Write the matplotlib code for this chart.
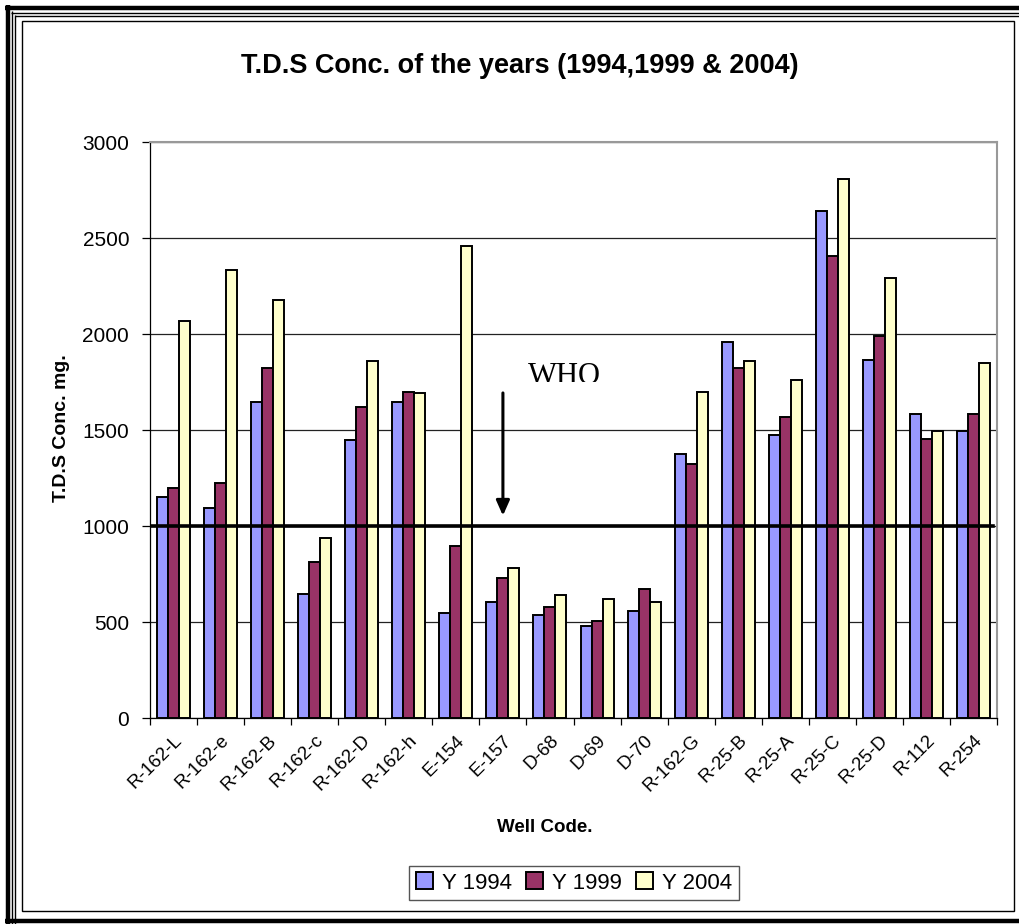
import matplotlib as mpl
import matplotlib.pyplot as plt
import numpy as np
from matplotlib.lines import Line2D
from matplotlib.patches import Rectangle
from matplotlib.transforms import Bbox

mpl.rcParams['font.family'] = ['Liberation Sans', 'DejaVu Sans']

# datos
pozos = ['R-162-L', 'R-162-e', 'R-162-B', 'R-162-c', 'R-162-D', 'R-162-h',
         'E-154', 'E-157', 'D-68', 'D-69', 'D-70', 'R-162-G', 'R-25-B',
         'R-25-A', 'R-25-C', 'R-25-D', 'R-112', 'R-254']
y1994 = [1153, 1096, 1648, 647, 1449, 1648, 547, 604, 538, 481, 556, 1374,
         1957, 1475, 2639, 1864, 1582, 1495]
y1999 = [1196, 1224, 1824, 814, 1622, 1698, 897, 730, 580, 505, 670, 1324,
         1824, 1568, 2408, 1990, 1455, 1582]
y2004 = [2066, 2331, 2175, 938, 1859, 1691, 2456, 780, 639, 619, 604, 1698,
         1859, 1759, 2809, 2293, 1495, 1847]
series = ['Y 1994', 'Y 1999', 'Y 2004']
colores = ['#9999FF', '#993366', '#FFFFCC']
limite_who = 1000

W, H = 1020, 924
fig = plt.figure(figsize=(W / 100, H / 100), dpi=100)

def fx(px):
    return px / W

def fy(py):
    return 1 - py / H

ax = fig.add_axes([fx(150), fy(718), fx(997) - fx(150), fy(142) - fy(718)])

x = np.arange(len(pozos))
ancho = 0.234
for i, (vals, nom, col) in enumerate(zip([y1994, y1999, y2004], series, colores)):
    ax.bar(x + (i - 1) * ancho, vals, ancho, color=col, edgecolor='black',
           linewidth=1.4, label=nom, zorder=3)

ax.set_xlim(-0.5, len(pozos) - 0.5)
ax.set_ylim(0, 3000)
ax.set_yticks(np.arange(0, 3001, 500))
ax.yaxis.grid(True, color='#222222', linewidth=0.9, zorder=0)
ax.set_axisbelow(True)

ax.set_xticks(x)
ax.set_xticklabels(pozos, rotation=45, ha='right', rotation_mode='anchor', fontsize=13.5)
ax.set_xticks(np.arange(-0.5, len(pozos)), minor=True)
ax.tick_params(axis='x', which='major', length=0, pad=10)
ax.tick_params(axis='x', which='minor', length=5, width=0.9, direction='out')
ax.tick_params(axis='y', length=6, width=0.9, direction='out', labelsize=15, pad=9)

for s in ['top', 'right']:
    ax.spines[s].set_color('#999999')
    ax.spines[s].set_linewidth(1.5)
for s in ['left', 'bottom']:
    ax.spines[s].set_color('black')
    ax.spines[s].set_linewidth(0.9)

# línea WHO
ax.axhline(limite_who, xmin=0, xmax=0.995, color='black', linewidth=2.6, zorder=5)
ax.annotate('', xy=(7.0, 1054), xytext=(7.0, 1693),
            arrowprops=dict(arrowstyle='-|>,head_length=0.9,head_width=0.4',
                            color='black', lw=2.2, shrinkA=0, shrinkB=0), zorder=6)
t = fig.text(fx(528), fy(384), 'WHO', fontsize=22, family='Liberation Serif',
             ha='left', va='baseline')
t.set_clip_box(Bbox([[0, H - 382], [W, H]]))
t.set_clip_on(True)

fig.text(fx(520), fy(66), 'T.D.S Conc. of the years (1994,1999 & 2004)',
         fontsize=19.5, fontweight='bold', ha='center', va='center')
fig.text(fx(62), fy(428), 'T.D.S Conc. mg.', fontsize=14, fontweight='bold',
         rotation=90, ha='center', va='center')
fig.text(fx(545), fy(828), 'Well Code.', fontsize=13.5, fontweight='bold',
         ha='center', va='center')

fig.legend(loc='center', bbox_to_anchor=(fx(574), fy(883)), ncol=3, fontsize=16,
           frameon=True, fancybox=False, edgecolor='#555555', framealpha=1,
           handlelength=0.8, handleheight=0.8, handletextpad=0.4,
           columnspacing=0.6, borderpad=0.3)

# marcos del documento
def linea(x0, y0, x1, y1, lw, color='black'):
    fig.add_artist(Line2D([fx(x0), fx(x1)], [fy(y0), fy(y1)], color=color,
                          linewidth=lw, solid_capstyle='butt'))

linea(5, 8, W, 8, 3.2)
linea(8, 5, 8, H, 3.2)
linea(11, 12.5, W, 12.5, 1.0)
linea(12.5, 11, 12.5, H, 1.0)
linea(15, 15.5, W, 15.5, 1.0)
linea(15.5, 15, 15.5, H, 1.0)
linea(5, 921, W, 921, 3.2)
fig.add_artist(Rectangle((fx(22), fy(911)), fx(1014) - fx(22), fy(21) - fy(911),
                         fill=False, edgecolor='black', linewidth=1.0))

plt.savefig('out.png', dpi=100)
